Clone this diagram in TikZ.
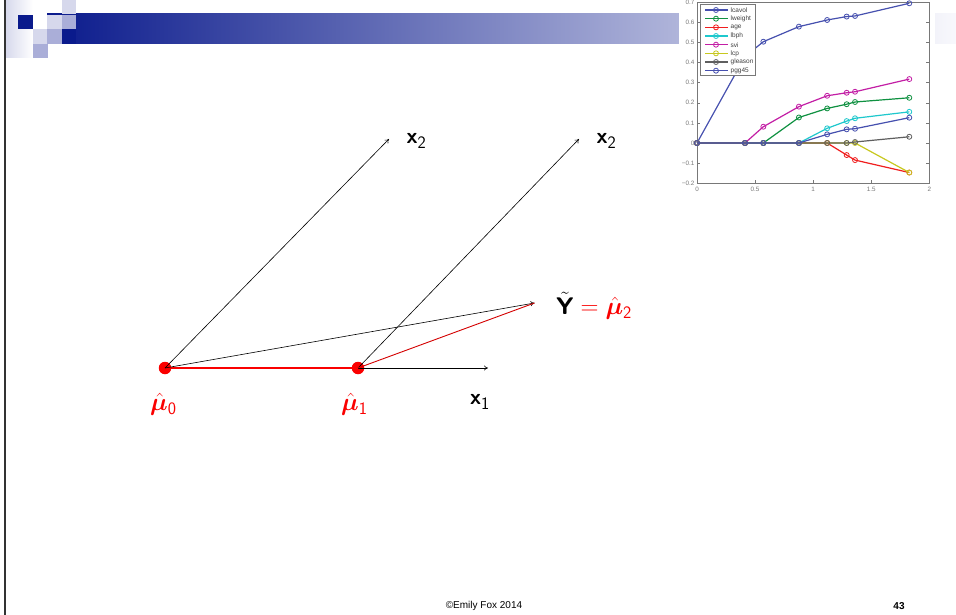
\documentclass[tikz,border=0pt]{standalone}
\usepackage{amsmath,bm}
\usepackage{fontspec}
\newfontfamily\arial{Liberation Sans}
\usetikzlibrary{arrows.meta}
\definecolor{navy}{RGB}{10,26,140}
\definecolor{lightlav}{RGB}{214,216,236}
\definecolor{medlav}{RGB}{170,174,216}
\definecolor{barend}{RGB}{248,248,252}
\definecolor{mblue}{RGB}{70,80,175}
\definecolor{mgreen}{RGB}{15,145,65}
\definecolor{mred}{RGB}{240,30,30}
\definecolor{mcyan}{RGB}{30,200,205}
\definecolor{mmag}{RGB}{195,30,165}
\definecolor{myel}{RGB}{200,200,30}
\definecolor{mgray}{RGB}{95,95,95}
\definecolor{axgray}{RGB}{120,120,120}
\definecolor{dotred}{RGB}{250,0,0}
\newcommand\mseries[2]{%
  \draw[series,#1] (0,0) foreach \p in {#2} {-- \p};
  \foreach \p in {(0,0),#2} \draw[#1,line width=0.8pt] \p circle[radius=2.5pt];}
\newcommand\subx[1]{_{\mbox{\fontsize{17.5}{18}\selectfont\sffamily #1}}}
\begin{document}
\begin{tikzpicture}[x=1pt,y=-1pt,
  sq/.style={inner sep=0pt,outer sep=0pt,minimum size=14.5pt,draw=none},
  dot/.style={circle,fill=dotred,inner sep=0pt,minimum size=12.5pt},
  vec/.style={line width=0.6pt,-{To[length=4pt,width=5pt]}},
  lbl/.style={inner sep=0pt,font=\fontsize{22}{24}\selectfont},
  mulbl/.style={inner sep=0pt,text=dotred,font=\fontsize{24}{26}\selectfont},
  series/.style={line width=1.2pt},
  ticklbl/.style={inner sep=0pt,font=\arial\fontsize{6.3}{7}\selectfont,text=axgray},
  leglbl/.style={inner sep=0pt,anchor=west,font=\arial\fontsize{6.5}{7}\selectfont,text=black!75}]
\useasboundingbox (0,0) rectangle (956,615);
\fill[white] (0,0) rectangle (956,615);
% header
\shade[left color=navy,right color=barend] (47,14) rectangle (956,44);
\shade[left color=lightlav,right color=white] (5,0) rectangle (33,58);
\node[sq,fill=lightlav,anchor=north west] (s1) at (61.5,0) {};
\node[sq,fill=navy,anchor=north west] (s2) at (18,15) {};
\node[sq,fill=white,anchor=north west] (s3) at (33,15) {};
\node[sq,fill=lightlav,anchor=north west] (s4) at (47,15) {};
\node[sq,fill=medlav,anchor=north west] (s5) at (61.5,15) {};
\node[sq,fill=lightlav,anchor=north west] (s6) at (33,29.5) {};
\node[sq,fill=medlav,anchor=north west] (s7) at (47,29.5) {};
\node[sq,fill=navy,anchor=north west] (s8) at (61.5,29.5) {};
\node[sq,fill=medlav,anchor=north west] (s9) at (33,44) {};
\draw[line width=1.5pt,black!80] (5,0) -- (5,615);
% inset plot
\fill[white] (679,0) rectangle (935,196);
\begin{scope}[shift={(697,143)},x=116.2pt,y=201pt]
  \draw[axgray,line width=0.5pt] (0,-0.2) rectangle (2,0.7);
  \foreach \v in {-0.1,0,0.1,0.2,0.3,0.4,0.5,0.6} {
    \draw[axgray,line width=0.4pt] (0,\v) -- ++(3pt,0);
    \draw[axgray,line width=0.4pt] (2,\v) -- ++(-3pt,0);
  }
  \foreach \u in {0.5,1,1.5} {
    \draw[axgray,line width=0.4pt] (\u,-0.2) -- ++(0,3pt);
  }
  \mseries{mblue}{(0.413,0.43),(0.571,0.504),(0.877,0.579),(1.12,0.612),(1.288,0.629),(1.36,0.632),(1.827,0.695)}
  \mseries{mgreen}{(0.413,0),(0.571,0),(0.877,0.127),(1.12,0.172),(1.288,0.193),(1.36,0.204),(1.827,0.225)}
  \mseries{mred}{(0.413,0),(0.571,0),(0.877,0),(1.12,0),(1.288,-0.06),(1.36,-0.085),(1.827,-0.147)}
  \mseries{mcyan}{(0.413,0),(0.571,0),(0.877,0),(1.12,0.073),(1.288,0.109),(1.36,0.123),(1.827,0.155)}
  \mseries{mmag}{(0.413,0),(0.571,0.081),(0.877,0.181),(1.12,0.235),(1.288,0.25),(1.36,0.255),(1.827,0.318)}
  \mseries{myel}{(0.413,0),(0.571,0),(0.877,0),(1.12,0),(1.288,0),(1.36,0),(1.827,-0.147)}
  \mseries{mgray}{(0.413,0),(0.571,0),(0.877,0),(1.12,0),(1.288,0),(1.36,0.005),(1.827,0.031)}
  \mseries{mblue}{(0.413,0),(0.571,0),(0.877,0),(1.12,0.043),(1.288,0.068),(1.36,0.071),(1.827,0.126)}
\end{scope}
% tick labels
\foreach \v/\t [count=\i] in {0.7/0.7,0.6/0.6,0.5/0.5,0.4/0.4,0.3/0.3,0.2/0.2,0.1/0.1,0/0,-0.1/−0.1,-0.2/−0.2}
  \node[ticklbl,anchor=east] (yt\i) at (694.5,{143-201*\v}) {\t};
\foreach \u/\t [count=\i] in {0/0,0.5/0.5,1/1,1.5/1.5,2/2}
  \node[ticklbl,anchor=north] (xt\i) at ({697+116.2*\u},187) {\t};
% legend
\draw[axgray,line width=0.5pt,fill=white] (700,4) rectangle (755,75);
\foreach \c/\t [count=\i] in {mblue/lcavol,mgreen/lweight,mred/age,mcyan/lbph,mmag/svi,myel/lcp,mgray/gleason,mblue/pgg45} {
  \draw[\c,line width=1.2pt] (705,{10+8.67*(\i-1)}) -- (728,{10+8.67*(\i-1)});
  \draw[\c,line width=0.8pt] (716,{10+8.67*(\i-1)}) circle[radius=2.5pt];
  \node[leglbl] (lg\i) at (730.5,{10+8.67*(\i-1)}) {\t};
}
% main diagram
\node[dot] (m0) at (165,368) {};
\node[dot] (m1) at (358,368) {};
\coordinate (x1e) at (488,368);
\coordinate (x2a) at (389,139);
\coordinate (x2b) at (579,139);
\coordinate (ye) at (534.5,303);
\draw[dotred,line width=1.3pt] (m0.center) -- (m1.center);
\draw[vec] (m1.center) -- (x1e);
\draw[vec] (m0.center) -- (x2a);
\draw[vec] (m1.center) -- (x2b);
\draw[vec] (m0.center) -- (ye);
\draw[dotred!85!black,line width=0.9pt] (m1.center) -- (ye);
\node[lbl,anchor=west] (lx2a) at (406.5,141) {$\textsf{\textbf{x}}\subx{2}$};
\node[lbl,anchor=west] (lx2b) at (596.5,141) {$\textsf{\textbf{x}}\subx{2}$};
\node[lbl,anchor=west] (lx1) at (470,402) {$\textsf{\textbf{x}}\subx{1}$};
\node[mulbl,text=black,anchor=west] (ly) at (556,306) {$\tilde{\textsf{\textbf{Y}}}\mathrel{\textcolor{dotred}{=}}\textcolor{dotred}{\hat{\bm\mu}\subx{2}}$};
\node[mulbl,anchor=west] (lm0) at (150,404) {$\hat{\bm\mu}\subx{0}$};
\node[mulbl,anchor=west] (lm1) at (341,404) {$\hat{\bm\mu}\subx{1}$};
% footer
\node[inner sep=0pt,font=\arial\fontsize{10}{12}\selectfont] (foot) at (484,606) {©Emily Fox 2014};
\node[inner sep=0pt,font=\arial\bfseries\fontsize{10}{12}\selectfont] (pg) at (899,606) {43};
\end{tikzpicture}
\end{document}
